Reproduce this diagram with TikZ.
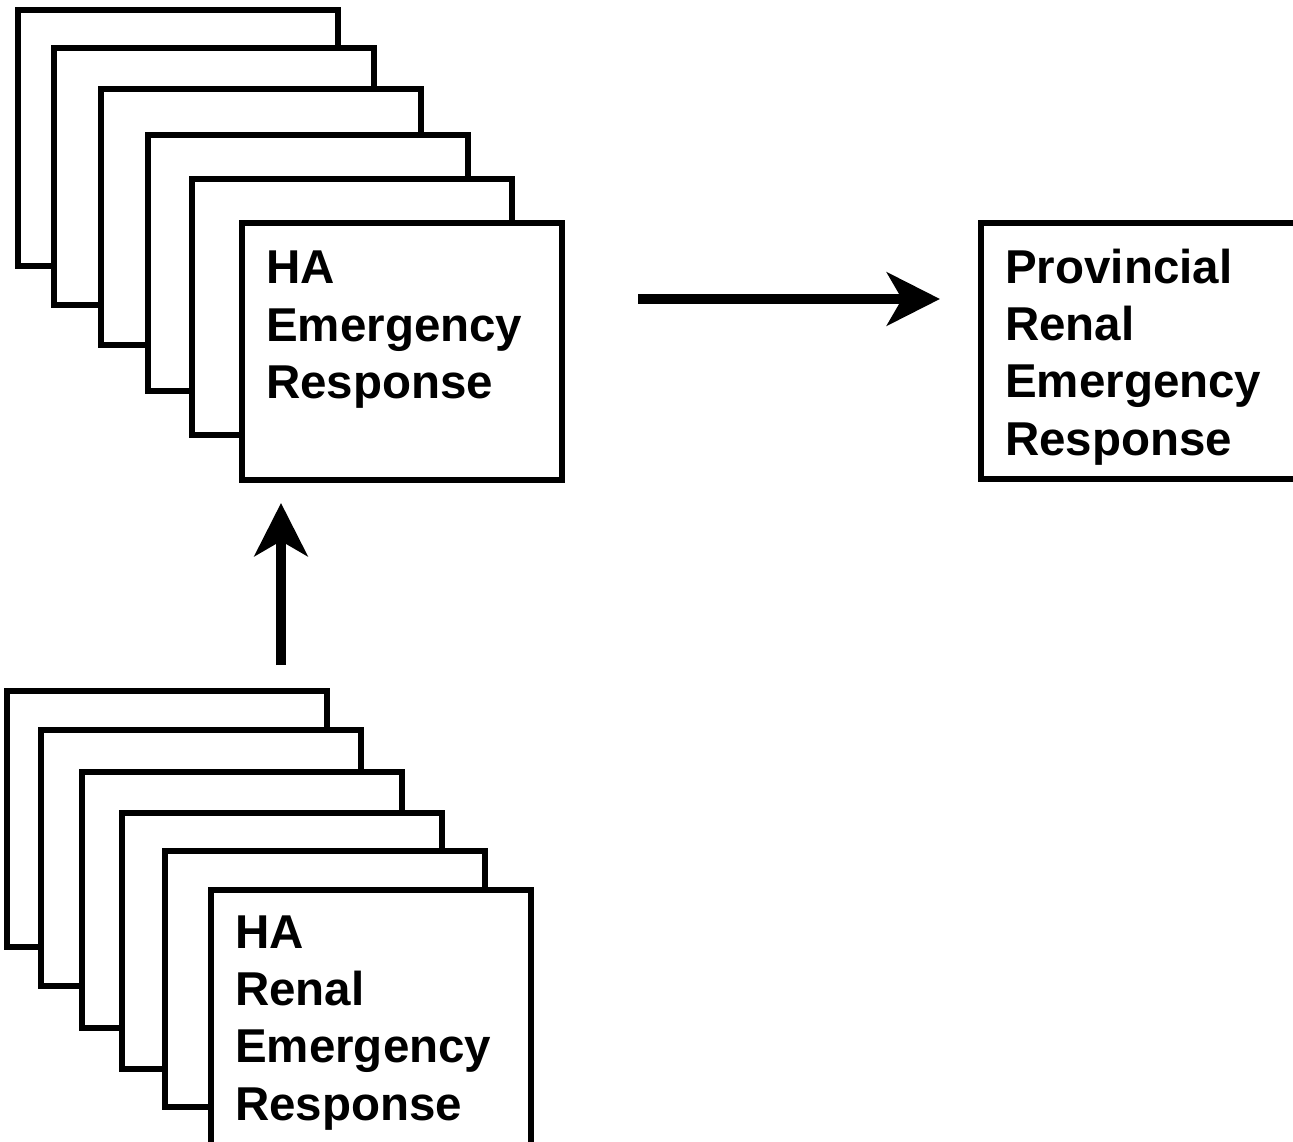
\documentclass[tikz,border=0pt]{standalone}
\usepackage{fontspec}
\setmainfont{Liberation Sans}
\usetikzlibrary{arrows.meta}
\begin{document}
\begin{tikzpicture}[x=1pt,y=-1pt,
  card/.style={draw, fill=white, line width=6pt, rectangle, minimum width=320pt,
    minimum height=256pt, inner sep=0pt, outer sep=0pt, anchor=north west},
  lbl/.style={font=\fontsize{47.5}{57.3}\selectfont\bfseries, align=left,
    inner sep=0pt, anchor=base west},
  arr/.style={line width=10pt, -{Stealth[length=53pt, width=53pt, inset=15pt]}}]
\useasboundingbox (0,0) rectangle (1293,1142);
\clip (0,0) rectangle (1293,1142);
% upper stack
\node[card] (ha1) at (18,10) {};
\node[card] (ha2) at (54,48.5) {};
\node[card] (ha3) at (101,89) {};
\node[card] (ha4) at (148,135) {};
\node[card] (ha5) at (192,179) {};
\node[card] (ha6) at (242,223.5) {};
\node[lbl] (haT) at (266,398.5) {HA\\Emergency\\Response};
% lower stack
\node[card] (rn1) at (7,691) {};
\node[card] (rn2) at (41,729.5) {};
\node[card] (rn3) at (82,772) {};
\node[card] (rn4) at (122,813) {};
\node[card] (rn5) at (165,850.5) {};
\node[card] (rn6) at (211,889.5) {};
\node[lbl] (rnT) at (235,1120) {HA\\Renal\\Emergency\\Response};
% provincial box
\node[card, minimum width=360pt] (prov) at (981,223) {};
\node[lbl] (prT) at (1005,455) {Provincial\\Renal\\Emergency\\Response};
% arrows
\coordinate (hy) at (0,299);
\coordinate (vx) at (281,0);
\draw[arr, shorten <=76pt, shorten >=41pt] (ha6.east |- hy) -- (prov.west |- hy);
\draw[arr, shorten <=26pt, shorten >=23.5pt] (rn1.north -| vx) -- (ha6.south -| vx);
\end{tikzpicture}
\end{document}
